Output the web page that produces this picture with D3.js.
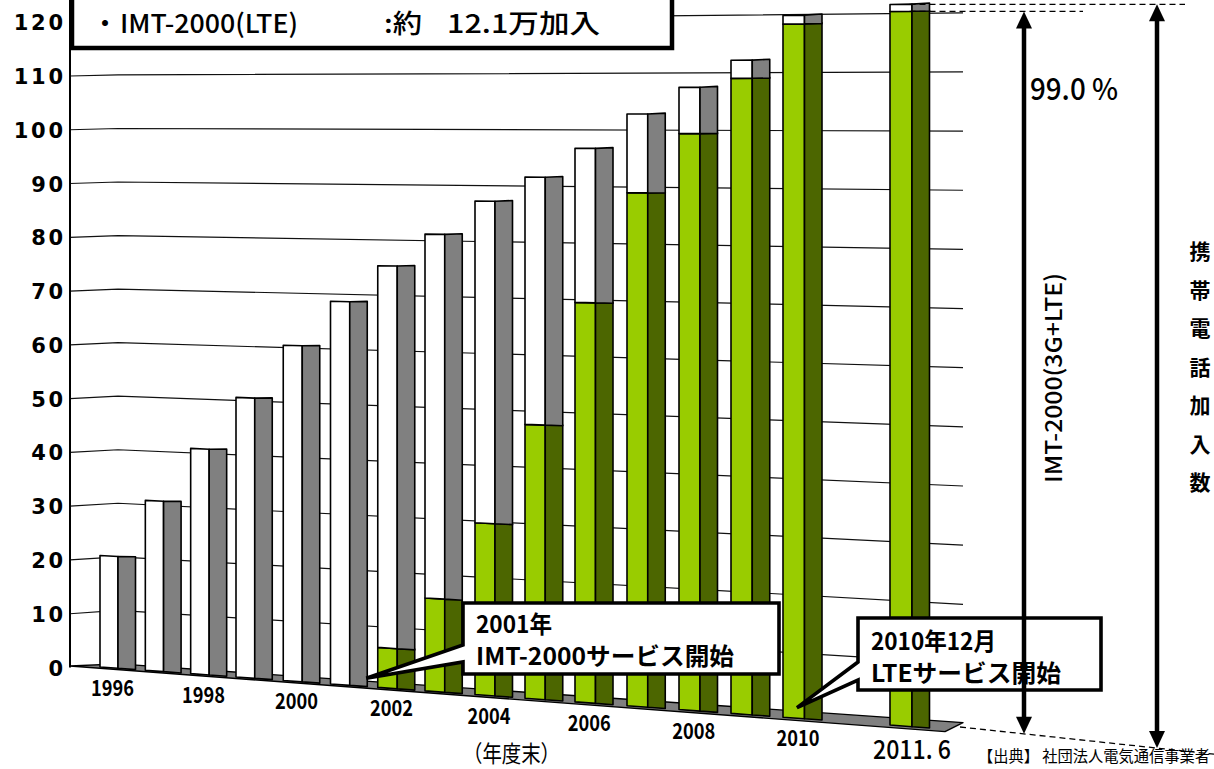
<!DOCTYPE html>
<html><head><meta charset="utf-8">
<script src="https://cdn.jsdelivr.net/npm/d3@7"></script>
<style>body{margin:0;background:#fff;} svg{display:block;}</style>
</head><body>
<svg id="c" width="1214" height="769"></svg>
<script>
// ---------------- data ----------------
const categories = ["1996","1997","1998","1999","2000","2001","2002","2003","2004","2005","2006","2007","2008","2009","2010","2011.6"];
const shownLabels = ["1996","1998","2000","2002","2004","2006","2008","2010","2011.6"];
const totalValues = [20.8, 31.5, 41.5, 51.2, 61.0, 69.2, 75.8, 81.6, 87.6, 91.9, 97.0, 103.0, 107.6, 112.2, 119.8, 121.4];
const imtValues   = [0, 0, 0, 0, 0, 0, 7.2, 16.6, 30.5, 48.3, 70.0, 89.3, 99.6, 109.1, 118.3, 120.2];
const yTicks = [0,10,20,30,40,50,60,70,80,90,100,110,120];
const legendTexts = ["・", "IMT-2000(LTE)", ":約", "12.1万加入"];
const note1 = ["2001年", "IMT-2000サービス開始"];
const note2 = ["2010年12月", "LTEサービス開始"];
const shareText = "99.0 %";
const imtAxisText = "IMT-2000(3G+LTE)";
const totalAxisChars = ["携","帯","電","話","加","入","数"];
const xAxisTitle = "（年度末）";
const sourceText = "【出典】 社団法人電気通信事業者";

// ---------------- colors ----------------
const C = {
  whiteF: "#ffffff", whiteS: "#808080",
  greenF: "#99cc00", greenS: "#4c6600",
  floor: "#808080"
};
const JP = "'Noto Sans CJK JP','Noto Sans',sans-serif";

const svg = d3.select("#c");

// ---------------- scales (perspective) ----------------
const slotOf = i => i < 15 ? i : i + 1;
const xSlot = d3.scaleLinear().domain([0,3,7,10,14,16]).range([100,236,425,575,783,890]);
const frontW = d3.scaleLinear().domain([0,16]).range([18,22]);
const sideW = 17.5;

const yBarL = d3.scaleLinear().domain([0,120]).range([667, 667 - 5.362*120]);
const yBarR = d3.scaleLinear().domain([0,120]).range([728, 728 - 5.965*120]);
const tBar = d3.scaleLinear().domain([100,930]).range([0,1]);
const Y = (x, v) => { const t = tBar(x); return yBarL(v)*(1-t) + yBarR(v)*t; };

const yAxisScale = d3.scaleLinear().domain([0,120]).range([667.5, 22.2]);
const yWallL = d3.scaleLinear().domain([0,120]).range([663.9, 21.4]);
const yWallR = d3.scaleLinear().domain([0,120]).range([722.6, 12.8]);
const X_AXIS = 70, X_WALL_L = 118, X_WALL_R = 963;

// ---------------- gridlines ----------------
const gGrid = svg.append("g");
yTicks.filter(v => v > 0).forEach(v => {
  gGrid.append("polyline")
    .attr("points", [[X_AXIS, yAxisScale(v)], [X_WALL_L, yWallL(v)], [X_WALL_R, yWallR(v)]].map(p => p.join(",")).join(" "))
    .attr("fill", "none").attr("stroke", "#111").attr("stroke-width", 1.2);
});

// floor
svg.append("polygon")
  .attr("points", [[X_AXIS, yAxisScale(0)-1.5], [X_WALL_L, yWallL(0)], [X_WALL_R, yWallR(0)], [945, Y(945,0)+2.5]].map(p => p.join(",")).join(" "))
  .attr("fill", C.floor).attr("stroke", "#000").attr("stroke-width", 1.4).attr("stroke-linejoin", "round");

// axis line
svg.append("line").attr("x1", X_AXIS).attr("x2", X_AXIS).attr("y1", 0).attr("y2", yAxisScale(0))
  .attr("stroke", "#000").attr("stroke-width", 2);

// y axis tick labels via d3 axis
const yAxis = d3.axisLeft(yAxisScale).tickValues(yTicks).tickSize(0).tickPadding(0).tickFormat(d3.format("d"));
const gAxis = svg.append("g").attr("transform", "translate(63,0)").call(yAxis);
gAxis.select(".domain").remove();
gAxis.selectAll("text")
  .attr("font-family", "'DejaVu Sans',sans-serif").attr("font-weight", "bold")
  .attr("font-size", 21).attr("fill", "#000").attr("dy", "0.36em")
  .each(function(d) {
    const n = String(d).length;
    if (n > 1) d3.select(this).attr("textLength", n*17.4 - 3).attr("lengthAdjust", "spacing");
  });

// ---------------- bars ----------------
const gBars = svg.append("g");
const poly = (pts) => pts.map(p => p[0].toFixed(2) + "," + p[1].toFixed(2)).join(" ");
categories.forEach((cat, i) => {
  const s = slotOf(i);
  const x0 = xSlot(s), x1 = x0 + frontW(s), x2 = x1 + sideW;
  const segs = [];
  if (imtValues[i] > 0) {
    segs.push([0, imtValues[i], C.greenF, C.greenS]);
    segs.push([imtValues[i], totalValues[i], C.whiteF, C.whiteS]);
  } else {
    segs.push([0, totalValues[i], C.whiteF, C.whiteS]);
  }
  segs.forEach(([a, b, cf, cs]) => {
    gBars.append("polygon")
      .attr("points", poly([[x0, Y(x0,a)], [x0, Y(x0,b)], [x1, Y(x1,b)], [x1, Y(x1,a)]]))
      .attr("fill", cf).attr("stroke", "#000").attr("stroke-width", 1.6).attr("stroke-linejoin", "round");
    gBars.append("polygon")
      .attr("points", poly([[x1, Y(x1,a)], [x1, Y(x1,b)], [x2, Y(x2,b) - 0.8], [x2, Y(x2,a)]]))
      .attr("fill", cs).attr("stroke", "#000").attr("stroke-width", 1.6).attr("stroke-linejoin", "round");
  });
  if (shownLabels.includes(cat)) {
    const last = cat === "2011.6";
    const lx = x0 + frontW(s) * (last ? 1.0 : 0.7);
    svg.append("text")
      .attr("x", lx).attr("y", Y(lx, 0) + (last ? 32 : 28))
      .attr("text-anchor", "middle")
      .attr("font-family", JP).attr("font-weight", last ? 500 : "bold")
      .attr("font-size", last ? 26 : 22)
      .attr("textLength", last ? 78 : 43).attr("lengthAdjust", "spacingAndGlyphs")
      .text(last ? "2011. 6" : cat);
  }
});

// x axis title
svg.append("text").attr("x", 463).attr("y", 762)
  .attr("font-family", JP).attr("font-size", 23).attr("textLength", 97).attr("lengthAdjust", "spacingAndGlyphs")
  .text(xAxisTitle);

// ---------------- callouts ----------------
function callout(box, tip, p1, p2, lines, lineYs, fs, widths) {
  const [l, t, r, b] = box;
  svg.append("path")
    .attr("d", `M${l},${t} H${r} V${b} H${l} V${p2} L${tip[0]},${tip[1]} L${l},${p1} Z`)
    .attr("fill", "#fff").attr("stroke", "#000").attr("stroke-width", 3.6).attr("stroke-linejoin", "miter");
  lines.forEach((txt, k) => {
    svg.append("text").attr("x", l + 13).attr("y", lineYs[k])
      .attr("font-family", JP).attr("font-weight", "bold").attr("font-size", fs)
      .attr("textLength", widths[k]).attr("lengthAdjust", "spacingAndGlyphs")
      .text(txt);
  });
}
{
  const s5 = slotOf(5), xr = xSlot(s5) + frontW(s5) + sideW - 1;
  callout([463, 603, 779, 674], [xr, Y(xr, 1.5)], 645, 662, note1, [633, 665], 24, [76, 258]);
  const s14 = slotOf(14), xm = xSlot(s14) + 14;
  callout([858, 618, 1101, 690], [xm, Y(xm, 1.8)], 662, 680, note2, [650, 682], 24, [125, 190]);
}

// ---------------- right annotations ----------------
{
  const i = categories.length - 1, s = slotOf(i);
  const xEnd = xSlot(s) + frontW(s) + sideW;
  const xA1 = 1024, xA2 = 1157;
  const yImt = Y(xSlot(s) + 8, imtValues[i]);
  const yTot = Y(xSlot(s) + 8, totalValues[i]);
  svg.append("line").attr("x1", xEnd - 20).attr("x2", 1083).attr("y1", yImt).attr("y2", yImt)
    .attr("stroke", "#000").attr("stroke-width", 1.3).attr("stroke-dasharray", "6,4");
  svg.append("line").attr("x1", xEnd - 20).attr("x2", 1185).attr("y1", yTot).attr("y2", yTot)
    .attr("stroke", "#000").attr("stroke-width", 1.3).attr("stroke-dasharray", "6,4");
  const yb = x => 727 + (x - 960) * 0.107;
  svg.append("line").attr("x1", 960).attr("y1", yb(960)).attr("x2", 1214).attr("y2", yb(1214))
    .attr("stroke", "#000").attr("stroke-width", 1.3).attr("stroke-dasharray", "6,4");
  function dblArrow(x, yt, ybot) {
    svg.append("line").attr("x1", x).attr("x2", x).attr("y1", yt + 14).attr("y2", ybot - 14)
      .attr("stroke", "#000").attr("stroke-width", 4.5);
    svg.append("polygon").attr("points", poly([[x, yt], [x-8, yt+17], [x+8, yt+17]])).attr("fill", "#000");
    svg.append("polygon").attr("points", poly([[x, ybot], [x-8, ybot-17], [x+8, ybot-17]])).attr("fill", "#000");
  }
  dblArrow(xA1, yImt, yb(xA1));
  dblArrow(xA2, yTot, yb(xA2));
}

svg.append("text").attr("x", 1030).attr("y", 100)
  .attr("font-family", JP).attr("font-weight", 500).attr("font-size", 30)
  .attr("textLength", 88).attr("lengthAdjust", "spacingAndGlyphs").text(shareText);

svg.append("text").attr("transform", "translate(1052,378) rotate(-90)")
  .attr("text-anchor", "middle").attr("dominant-baseline", "central")
  .attr("font-family", JP).attr("font-weight", 500).attr("font-size", 23)
  .attr("textLength", 210).attr("lengthAdjust", "spacingAndGlyphs").text(imtAxisText);

totalAxisChars.forEach((ch, k) => {
  svg.append("text").attr("x", 1200).attr("y", 250 + k * 38.5)
    .attr("text-anchor", "middle").attr("dominant-baseline", "central")
    .attr("font-family", JP).attr("font-weight", "bold").attr("font-size", 21).text(ch);
});

svg.append("text").attr("x", 978).attr("y", 762)
  .attr("font-family", JP).attr("font-size", 15.5)
  .attr("textLength", 232).attr("lengthAdjust", "spacingAndGlyphs").text(sourceText);

// ---------------- legend box ----------------
svg.append("rect").attr("x", 72).attr("y", -12).attr("width", 600).attr("height", 60)
  .attr("fill", "#fff").attr("stroke", "#000").attr("stroke-width", 4.5);
const lg = [[92, null], [120, 178], [384, 38], [447, 153]];
legendTexts.forEach((t, k) => {
  const el = svg.append("text").attr("x", lg[k][0]).attr("y", 33)
    .attr("font-family", JP).attr("font-weight", 500).attr("font-size", 26).text(t);
  if (lg[k][1]) el.attr("textLength", lg[k][1]).attr("lengthAdjust", "spacingAndGlyphs");
});
</script>
</body></html>
